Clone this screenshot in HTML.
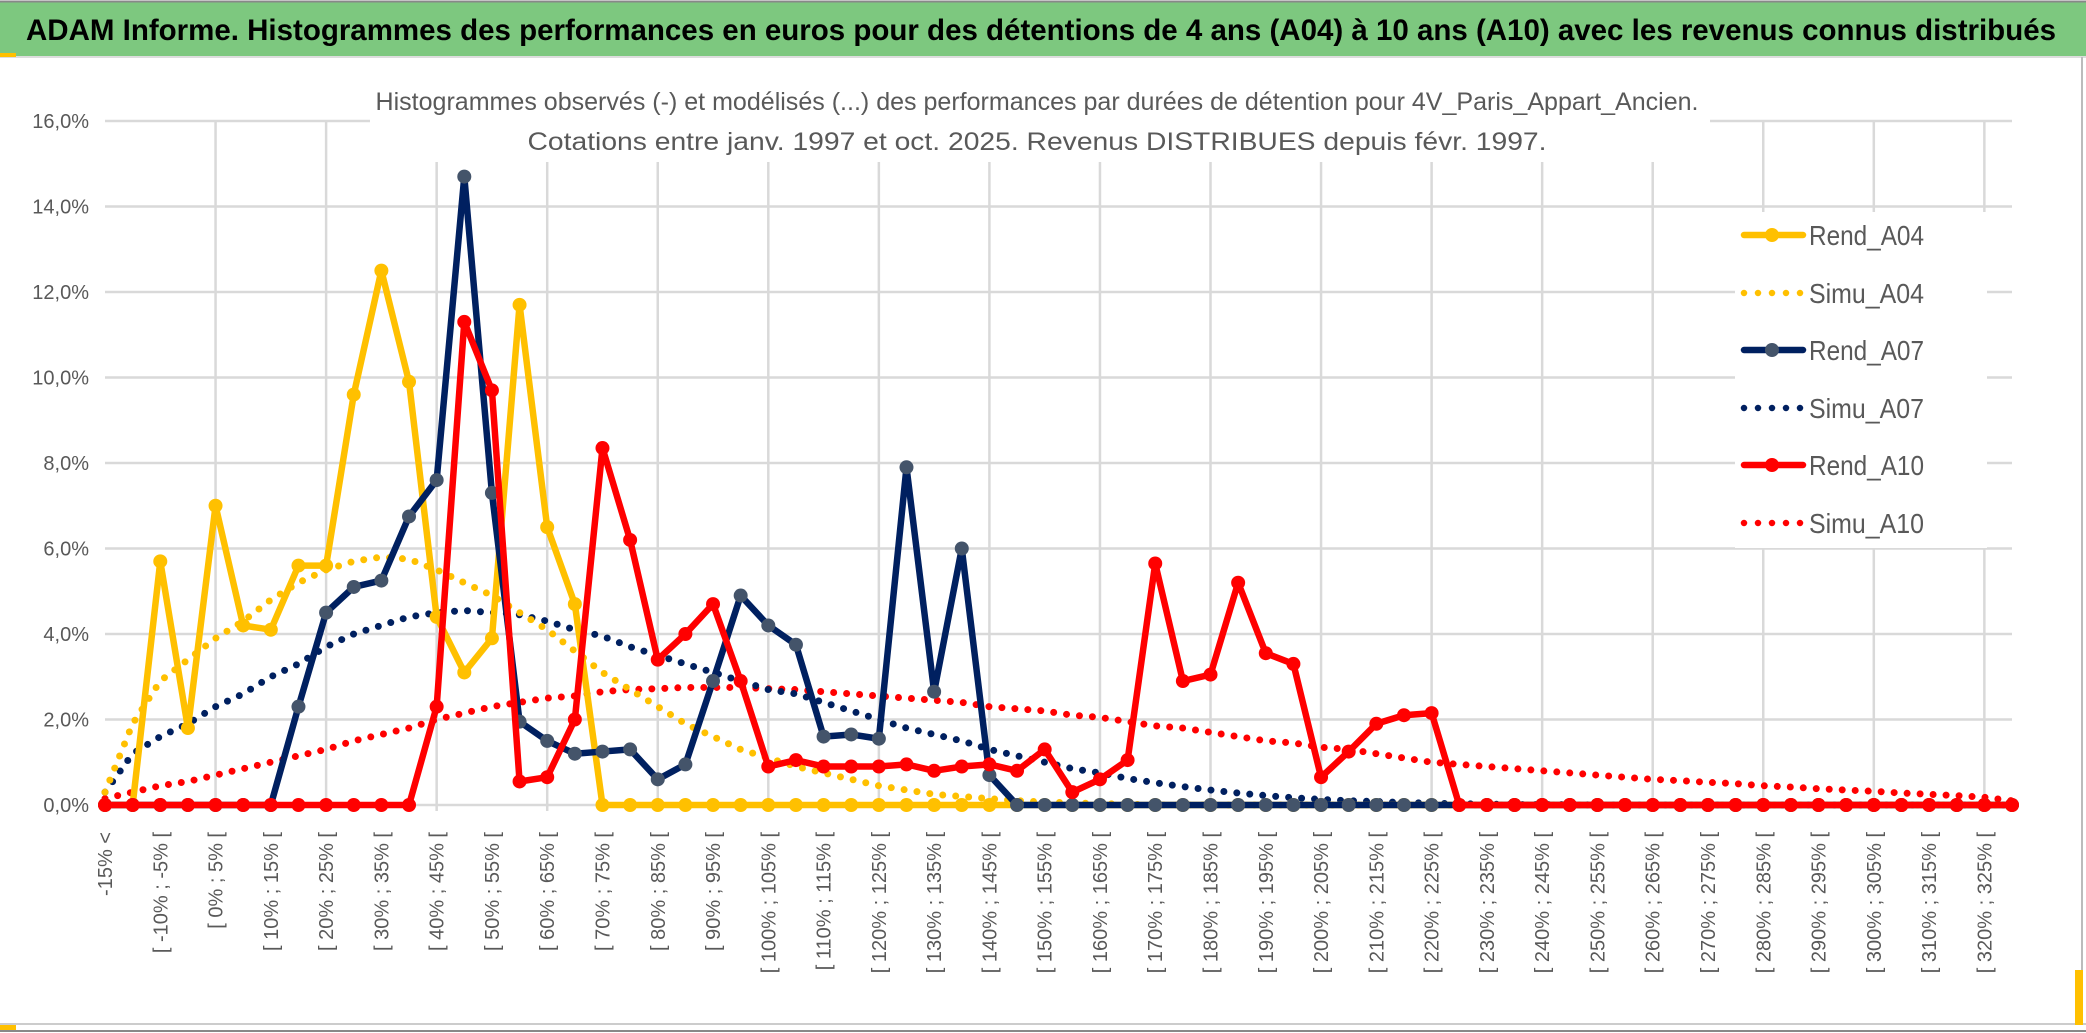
<!DOCTYPE html>
<html><head><meta charset="utf-8"><style>
html,body{margin:0;padding:0;background:#fff;}
svg{display:block;font-family:"Liberation Sans",sans-serif;}
</style></head><body>
<svg id="chart" width="2086" height="1033" viewBox="0 0 2086 1033">
<rect x="0" y="0" width="2086" height="1033" fill="#fff"/>
<rect x="0" y="2" width="2086" height="54" fill="#7DC87F"/>
<line x1="0" y1="1.5" x2="2086" y2="1.5" stroke="#888" stroke-width="2"/>
<line x1="0" y1="57" x2="2086" y2="57" stroke="#ddd" stroke-width="2"/>
<rect x="0" y="53" width="16" height="4" fill="#FFC000"/>
<text x="26" y="40" font-size="30" font-weight="bold" fill="#000" textLength="2030" lengthAdjust="spacingAndGlyphs">ADAM Informe. Histogrammes des performances en euros pour des détentions de 4 ans (A04) à 10 ans (A10) avec les revenus connus distribués</text>
<line x1="2082" y1="57" x2="2082" y2="1025" stroke="#bbb" stroke-width="2"/>
<line x1="0" y1="1024" x2="2086" y2="1024" stroke="#ccc" stroke-width="2"/>
<line x1="0" y1="1031" x2="2086" y2="1031" stroke="#888" stroke-width="2"/>
<rect x="0" y="1025" width="16" height="5" fill="#FFC000"/>
<rect x="2075" y="970" width="8" height="55" fill="#FFC000"/>
<g id="grid"></g>
<rect x="370" y="80" width="1340" height="82" fill="#fff"/>
<text x="1037" y="110" font-size="25" fill="#595959" text-anchor="middle" textLength="1323" lengthAdjust="spacingAndGlyphs">Histogrammes observés (-) et modélisés (...) des performances par durées de détention pour 4V_Paris_Appart_Ancien.</text>
<text x="1037" y="150" font-size="25" fill="#595959" text-anchor="middle" textLength="1019" lengthAdjust="spacingAndGlyphs">Cotations entre janv. 1997 et oct. 2025. Revenus DISTRIBUES depuis févr. 1997.</text>
<g id="series"></g>
<rect x="1735" y="212" width="252" height="336" fill="#fff"/>
<g id="legend"></g>
</svg>
<script>
const categories=[];
for(let i=0;i<70;i++){categories.push(i===0?"-15% <":"[ "+(-15+5*(i-1))+"% ; "+(-10+5*(i-1))+"% [");}
const yTicks=[0,2,4,6,8,10,12,14,16];
const yTickLabels=["0,0%","2,0%","4,0%","6,0%","8,0%","10,0%","12,0%","14,0%","16,0%"];
function pad(a){while(a.length<70)a.push(0);return a;}
const rendA04=pad([0,0,5.7,1.8,7.0,4.2,4.1,5.6,5.6,9.6,12.5,9.9,4.4,3.1,3.9,11.7,6.5,4.7,0]);
const simuA04=pad([0.3,1.9,2.9,3.4,3.9,4.3,4.8,5.2,5.5,5.7,5.8,5.75,5.5,5.2,4.9,4.5,4.1,3.6,3.1,2.7,2.3,1.9,1.6,1.3,1.1,0.9,0.75,0.6,0.45,0.35,0.25,0.2,0.15,0.1,0.07,0.05,0.03,0.02]);
const rendA07=pad([0,0,0,0,0,0,0,2.3,4.5,5.1,5.25,6.75,7.6,14.7,7.3,1.95,1.5,1.2,1.25,1.3,0.6,0.95,2.9,4.9,4.2,3.75,1.6,1.65,1.55,7.9,2.65,6.0,0.7,0]);
const simuA07=pad([0.3,1.2,1.6,1.9,2.3,2.6,3.0,3.3,3.7,4.0,4.2,4.4,4.5,4.55,4.5,4.45,4.3,4.1,3.95,3.7,3.5,3.3,3.1,2.9,2.7,2.6,2.4,2.2,2.0,1.8,1.65,1.5,1.3,1.15,1.0,0.85,0.75,0.62,0.52,0.43,0.35,0.28,0.22,0.17,0.13,0.1,0.08,0.06,0.04,0.03,0.02,0.01,0.01,0.01]);
const rendA10=pad([0,0,0,0,0,0,0,0,0,0,0,0,2.3,11.3,9.7,0.55,0.65,2.0,8.35,6.2,3.4,4.0,4.7,2.9,0.9,1.05,0.9,0.9,0.9,0.95,0.8,0.9,0.95,0.8,1.3,0.3,0.6,1.05,5.65,2.9,3.05,5.2,3.55,3.3,0.65,1.25,1.9,2.1,2.15,0]);
const simuA10=[0.15,0.3,0.45,0.55,0.7,0.85,1.0,1.15,1.3,1.5,1.65,1.8,2.0,2.15,2.3,2.4,2.5,2.55,2.65,2.7,2.72,2.75,2.75,2.75,2.72,2.7,2.65,2.6,2.55,2.5,2.45,2.4,2.3,2.25,2.2,2.1,2.05,1.95,1.85,1.8,1.7,1.6,1.5,1.45,1.35,1.3,1.2,1.1,1.0,0.95,0.9,0.85,0.8,0.75,0.7,0.65,0.6,0.57,0.53,0.5,0.45,0.42,0.38,0.35,0.32,0.28,0.25,0.22,0.18,0.1];
const X0=105,X1=2012,Y0=805,Y1=121;
const xs=i=>X0+i*(X1-X0)/(categories.length-1);
const ys=v=>Y0-v*(Y0-Y1)/16;
const NS="http://www.w3.org/2000/svg";
function mk(tag,attrs,parent){const e=document.createElementNS(NS,tag);for(const k in attrs)e.setAttribute(k,attrs[k]);parent.appendChild(e);return e;}
const grid=document.getElementById('grid');
yTicks.forEach((t,k)=>{
 const l=mk('line',{x1:X0,x2:X1,y1:ys(t),y2:ys(t),stroke:'#D9D9D9','stroke-width':2.5},grid);
 
 
 const tx=mk('text',{x:89,y:ys(t)+7,'font-size':20,fill:'#595959','text-anchor':'end'},grid);
 tx.textContent=yTickLabels[k];
 
 
});
categories.forEach((c,i)=>{
 if(i%4===0&&i>0){
  const l=mk('line',{x1:xs(i),x2:xs(i),y1:Y1,y2:Y0+6,stroke:'#D9D9D9','stroke-width':2.5},grid);
  
  
 }
 if(i%2===0){
  const tx=mk('text',{x:0,y:0,'font-size':20,fill:'#595959','text-anchor':'end',transform:`translate(${xs(i)+7},832) rotate(-90)`},grid);
  tx.textContent=c;
  
  
 }
});
const sg=document.getElementById('series');
function pts(d){return d.map((v,i)=>xs(i)+','+ys(v)).join(' ');}
function dotted(d,col,name){
 const p=mk('polyline',{points:pts(d),fill:'none',stroke:col,'stroke-width':7,'stroke-dasharray':'0 13','stroke-linecap':'round'},sg);
 
 
}
function solid(d,col,mcol,name){
 const p=mk('polyline',{points:pts(d),fill:'none',stroke:col,'stroke-width':6.5,'stroke-linejoin':'round'},sg);
 
 
 d.forEach((v,i)=>{
  const c=mk('circle',{cx:xs(i),cy:ys(v),r:7,fill:mcol},sg);
  
  
 });
}
dotted(simuA10,'#FF0000','simu-a10-line');
dotted(simuA07,'#002060','simu-a07-line');
dotted(simuA04,'#FFC000','simu-a04-line');
solid(rendA04,'#FFC000','#FFC000','rend-a04-line');
solid(rendA07,'#002060','#44546A','rend-a07-line');
solid(rendA10,'#FF0000','#FF0000','rend-a10-line');
const lg=document.getElementById('legend');
const leg=[["Rend_A04","#FFC000","#FFC000",false],["Simu_A04","#FFC000",null,true],["Rend_A07","#002060","#44546A",false],["Simu_A07","#002060",null,true],["Rend_A10","#FF0000","#FF0000",false],["Simu_A10","#FF0000",null,true]];
const legY=[235,293,350,408,465,523];
leg.forEach((e,k)=>{
 const y=legY[k];
 let l;
 if(e[3]) l=mk('line',{x1:1744,x2:1803,y1:y,y2:y,stroke:e[1],'stroke-width':6.5,'stroke-dasharray':'0 14','stroke-linecap':'round'},lg);
 else { l=mk('line',{x1:1744,x2:1803,y1:y,y2:y,stroke:e[1],'stroke-width':6.5,'stroke-linecap':'round'},lg); mk('circle',{cx:1772,cy:y,r:7,fill:e[2]},lg); }
 
 
 const t=mk('text',{x:1809,y:y+10,'font-size':28,fill:'#595959',textLength:115,lengthAdjust:'spacingAndGlyphs'},lg);
 t.textContent=e[0];
 
 
});
</script>
</body></html>
